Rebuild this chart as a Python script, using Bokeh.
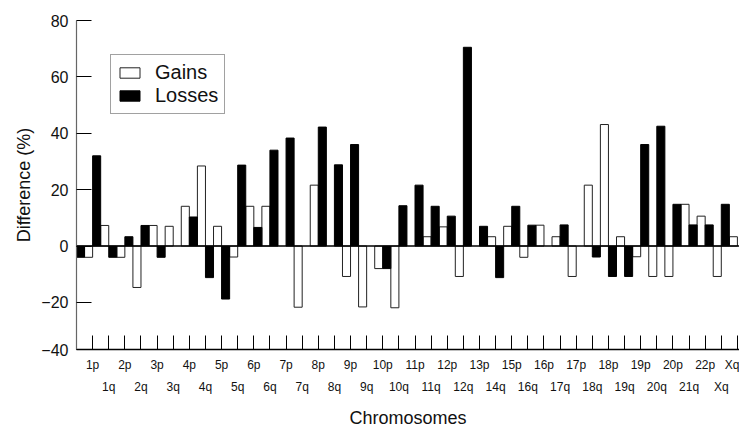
from bokeh.plotting import figure
from bokeh.models import (ColumnDataSource, FixedTicker, LinearAxis, Range1d,
                          Span, Legend, LegendItem)
from bokeh.embed import file_html
from bokeh.resources import INLINE

# ---- data ----
tick_labels = ["1p", "1q", "2p", "2q", "3p", "3q", "4p", "4q", "5p", "5q",
               "6p", "6q", "7p", "7q", "8p", "8q", "9p", "9q", "10p", "10q",
               "11p", "11q", "12p", "12q", "13p", "14q", "15p", "16q", "16p",
               "17q", "17p", "18q", "18p", "19q", "19p", "20q", "20p", "21q",
               "22p", "Xq", "Xq"]

losses = [-4, 32, -4, 3.3, 7.3, -4, 0, 10.3, -11.2, -18.8,
          28.7, 6.6, 34, 38.3, 0, 42.2, 28.8, 36, 0, -8,
          14.3, 21.6, 14.1, 10.6, 70.5, 7, -11.2, 14.1, 7.4, 0,
          7.5, 0, -3.9, -10.8, -10.8, 36, 42.5, 14.8, 7.5, 7.5,
          14.8]

gains = [-4, 7.3, -4, -14.7, 7.3, 7, 14.1, 28.4, 7, -3.9,
         14.1, 14.1, 0, -21.7, 21.6, 0, -10.8, -21.6, -8, -21.9,
         0, 3.3, 6.8, -10.8, 0, 3.3, 7, -4, 7.4, 3.3,
         -10.8, 21.6, 43.1, 3.3, -3.8, -10.8, -10.8, 14.8, 10.6, -10.8,
         3.3]

y_ticks = [-36.7, -20, 0, 20, 40, 60, 80]
y_tick_labels = ["\u221240", "\u221220", "0", "20", "40", "60", "80"]

FONT = "Liberation Sans"
TXT = "#111111"

n = len(tick_labels)
loss_src = ColumnDataSource(dict(
    x=[i + 0.25 for i in range(n) if losses[i] != 0],
    top=[v for v in losses if v != 0]))
gain_src = ColumnDataSource(dict(
    x=[i + 0.75 for i in range(n) if gains[i] != 0],
    top=[v for v in gains if v != 0]))

p = figure(width=739, height=430,
           x_range=Range1d(0, 41.13), y_range=Range1d(-36.7, 80),
           output_backend="svg", toolbar_location=None,
           min_border_left=76, min_border_right=0, min_border_top=20,
           min_border_bottom=77)
p.outline_line_color = None
p.xgrid.visible = False
p.ygrid.visible = False
p.background_fill_color = "white"
p.border_fill_color = "white"

r_gain = p.vbar(x="x", top="top", bottom=0, width=0.5, source=gain_src,
                fill_color="white", line_color="#222222", line_width=1)
r_loss = p.vbar(x="x", top="top", bottom=0, width=0.5, source=loss_src,
                fill_color="black", line_color="black", line_width=1)

p.add_layout(Span(location=0, dimension="width", line_color="black",
                  line_width=1.5))

# y axis
ya = p.yaxis[0]
ya.ticker = FixedTicker(ticks=y_ticks)
ya.major_label_overrides = {t: l for t, l in zip(y_ticks, y_tick_labels)}
ya.major_tick_in = 15
ya.major_tick_out = 0
ya.minor_tick_line_color = None
ya.axis_line_color = "#666666"
ya.axis_line_width = 1.2
ya.major_tick_line_color = "black"
ya.major_label_text_font = FONT
ya.major_label_text_font_size = "16px"
ya.major_label_text_color = TXT
ya.major_label_standoff = 8
ya.axis_label = "Difference (%)"
ya.axis_label_text_font = FONT
ya.axis_label_text_font_size = "18px"
ya.axis_label_text_font_style = "normal"
ya.axis_label_text_color = TXT
ya.axis_label_standoff = 4

# x axis: ticks + top row labels
all_ticks = list(range(n + 1))
xa = p.xaxis[0]
xa.ticker = FixedTicker(ticks=all_ticks)
xa.major_label_overrides = {t: (tick_labels[t - 1] if t % 2 == 1 else "")
                            for t in all_ticks}
xa.major_tick_in = 14
xa.major_tick_out = 0
xa.minor_tick_line_color = None
xa.axis_line_color = "black"
xa.axis_line_width = 1.5
xa.major_tick_line_color = "black"
xa.major_label_text_font = FONT
xa.major_label_text_font_size = "12px"
xa.major_label_text_color = TXT
xa.major_label_standoff = 8

# second axis: bottom row labels + title
even_ticks = list(range(2, n + 1, 2))
xa2 = LinearAxis(ticker=FixedTicker(ticks=even_ticks),
                 major_label_overrides={t: tick_labels[t - 1] for t in even_ticks})
xa2.axis_line_color = None
xa2.major_tick_line_color = None
xa2.minor_tick_line_color = None
xa2.major_tick_in = 0
xa2.major_tick_out = 0
xa2.major_label_text_font = FONT
xa2.major_label_text_font_size = "12px"
xa2.major_label_text_color = TXT
xa2.major_label_standoff = 5
xa2.axis_label = "Chromosomes"
xa2.axis_label_text_font = FONT
xa2.axis_label_text_font_size = "18px"
xa2.axis_label_text_font_style = "normal"
xa2.axis_label_text_color = TXT
xa2.axis_label_standoff = 11
p.add_layout(xa2, "below")

legend = Legend(items=[LegendItem(label="Gains", renderers=[r_gain]),
                       LegendItem(label="Losses", renderers=[r_loss])],
                location=(34, 235), orientation="vertical",
                label_text_font=FONT, label_text_font_size="20px",
                label_text_color=TXT, glyph_width=25, glyph_height=13,
                label_height=20, label_standoff=13, spacing=0, padding=6,
                margin=0, border_line_color="#444444", border_line_width=1.2,
                background_fill_alpha=1.0)
p.add_layout(legend, "center")

open("out.html", "w").write(file_html(p, INLINE))
